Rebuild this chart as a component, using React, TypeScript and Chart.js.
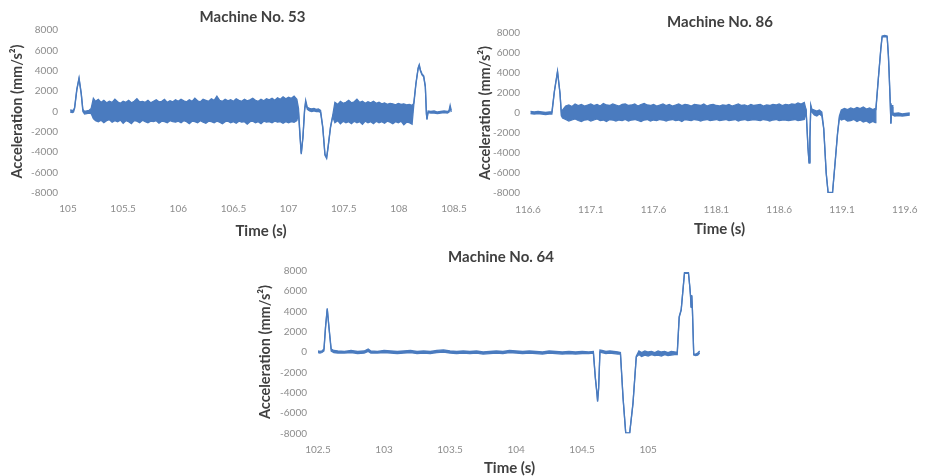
import React, { useEffect, useRef } from 'react';
import { Chart, registerables } from 'chart.js';

Chart.register(...registerables);

// ---------- shared ----------
const yTicks = [-8000, -6000, -4000, -2000, 0, 2000, 4000, 6000, 8000];
const yTitle = 'Acceleration (mm/s²)';
const xTitle = 'Time (s)';

// ---------- Machine No. 53 (upper / lower envelope of the trace) ----------
const title53 = 'Machine No. 53';
const xTicks53 = [105, 105.5, 106, 106.5, 107, 107.5, 108, 108.5];
const t53 = [
  105.02, 105.04, 105.05, 105.06, 105.08, 105.10, 105.12, 105.135, 105.15, 105.17, 105.19, 105.21,
  105.23, 105.25, 105.275, 105.30, 105.325, 105.35, 105.375, 105.40, 105.425, 105.45,
  105.475, 105.50, 105.525, 105.55, 105.575, 105.60, 105.625, 105.65, 105.675, 105.70,
  105.725, 105.75, 105.775, 105.80, 105.825, 105.85, 105.875, 105.90, 105.925, 105.95,
  105.975, 106.00, 106.025, 106.05, 106.075, 106.10, 106.125, 106.15, 106.175, 106.20,
  106.225, 106.25, 106.275, 106.30, 106.325, 106.35, 106.375, 106.40, 106.425, 106.45,
  106.475, 106.50, 106.525, 106.55, 106.575, 106.60, 106.625, 106.65, 106.675, 106.70,
  106.725, 106.75, 106.775, 106.80, 106.825, 106.85, 106.875, 106.90, 106.925, 106.95,
  106.975, 107.00, 107.025, 107.05, 107.075,
  107.09, 107.105, 107.115, 107.13, 107.145, 107.155, 107.17, 107.19, 107.21, 107.23,
  107.25, 107.27, 107.29, 107.31, 107.33, 107.345, 107.36, 107.38, 107.40,
  107.42, 107.445, 107.47, 107.495, 107.52, 107.545, 107.57, 107.595, 107.62, 107.645,
  107.67, 107.695, 107.72, 107.745, 107.77, 107.795, 107.82, 107.845, 107.87, 107.895,
  107.92, 107.945, 107.97, 107.995, 108.02, 108.045, 108.07, 108.095, 108.12,
  108.135, 108.155, 108.175, 108.185, 108.195, 108.21, 108.225, 108.24, 108.25, 108.255,
  108.265, 108.29, 108.32, 108.35, 108.38, 108.41, 108.44, 108.455, 108.465, 108.475,
];
const hi53 = [
  150, 100, 150, 400, 2200, 3300, 1800, 200, 0, 50, 100, 300,
  1300, 1000, 1200, 900, 1100, 850, 1000, 900, 1200, 950,
  800, 1000, 900, 1100, 850, 1000, 1250, 950, 1000, 900,
  1100, 850, 1000, 1150, 950, 1000, 1200, 900, 1050, 950,
  1150, 1000, 1200, 1050, 950, 1150, 1000, 1300, 1050, 950,
  1200, 1100, 1000, 1250, 1100, 1500, 1100, 1000, 1200, 1050,
  1150, 1000, 1250, 1100, 1000, 1200, 1050, 1150, 1300, 1100,
  1000, 1200, 1050, 1250, 1150, 1300, 1100, 1350, 1200, 1450,
  1250, 1400, 1300, 1500, 1200,
  300, -2500, -4100, -2500, 200, 1100, 400, 300, 250, 300,
  200, 250, 100, -1500, -4200, -4500, -3300, -1500, -400,
  900, 700, 1000, 800, 900, 1100, 850, 950, 1200, 900,
  1000, 800, 950, 850, 1000, 800, 900, 750, 850, 700,
  800, 750, 650, 800, 700, 750, 650, 700, 600,
  800, 2800, 4300, 4600, 4100, 3700, 3500, 2500, -200, -700,
  50, 0, 50, -50, 0, 50, 0, 100, 600, 100,
];
const lo53 = [
  -50, -100, -50, 300, 2100, 3200, 1700, 0, -250, -200, -150, -200,
  -700, -900, -1000, -850, -1100, -900, -800, -1050, -900, -1000,
  -850, -1150, -900, -1000, -1200, -900, -950, -1100, -850, -1000,
  -1100, -950, -1000, -900, -1150, -950, -1000, -1100, -900, -1000,
  -1050, -950, -1100, -900, -1000, -1200, -950, -1000, -1100, -900,
  -1050, -1150, -950, -1000, -1100, -950, -1050, -1200, -1000, -950,
  -1100, -1000, -1150, -950, -1050, -1000, -1250, -1000, -950, -1100,
  -1000, -1200, -950, -1050, -1000, -1100, -950, -1050, -1000, -1150,
  -1000, -1100, -1000, -1050, -900,
  -200, -2700, -4200, -2600, 0, 900, 200, 50, 0, 50,
  0, 0, -100, -1600, -4300, -4600, -3400, -1600, -500,
  -1100, -900, -1200, -950, -1100, -1000, -1200, -950, -1100, -1000,
  -1250, -950, -1100, -1000, -1200, -950, -1100, -1000, -1150, -950,
  -1050, -1200, -1000, -1100, -950, -1300, -1050, -1100, -1250,
  600, 2700, 4200, 4500, 4000, 3600, 3400, 2400, -300, -800,
  -100, -150, -150, -200, -150, -100, -150, -50, 400, -50,
];

// ---------- Machine No. 86 ----------
const title86 = 'Machine No. 86';
const xTicks86 = [116.6, 117.1, 117.6, 118.1, 118.6, 119.1, 119.6];
const t86 = [
  116.62, 116.65, 116.68, 116.71, 116.74, 116.77, 116.79, 116.81, 116.835, 116.855, 116.866, 116.875,
  116.90, 116.925, 116.95, 116.975, 117.00, 117.025, 117.05, 117.075, 117.10, 117.125,
  117.15, 117.175, 117.20, 117.225, 117.25, 117.275, 117.30, 117.325, 117.35, 117.375,
  117.40, 117.425, 117.45, 117.475, 117.50, 117.525, 117.55, 117.575, 117.60, 117.625,
  117.65, 117.675, 117.70, 117.725, 117.75, 117.775, 117.80, 117.825, 117.85, 117.875,
  117.90, 117.925, 117.95, 117.975, 118.00, 118.025, 118.05, 118.075, 118.10, 118.125,
  118.15, 118.175, 118.20, 118.225, 118.25, 118.275, 118.30, 118.325, 118.35, 118.375,
  118.40, 118.425, 118.45, 118.475, 118.50, 118.525, 118.55, 118.575, 118.60, 118.625,
  118.65, 118.675, 118.70, 118.725, 118.75, 118.775, 118.80,
  118.815, 118.83, 118.838, 118.845, 118.852, 118.86, 118.88, 118.90, 118.92, 118.94,
  118.955, 118.975, 118.99, 119.005, 119.025, 119.045, 119.065, 119.08,
  119.095, 119.12, 119.145, 119.17, 119.195, 119.22, 119.245, 119.27, 119.295, 119.32, 119.345, 119.365,
  119.37, 119.39, 119.41, 119.42, 119.44, 119.46, 119.47, 119.475, 119.485, 119.49,
  119.495, 119.50, 119.505, 119.52, 119.55, 119.58, 119.61, 119.64,
];
const hi86 = [
  150, 100, 150, 100, 50, 100, 100, 2200, 4200, 2000, -100, 300,
  700, 800, 650, 900, 750, 850, 700, 800, 900, 750,
  850, 700, 950, 800, 750, 900, 800, 700, 850, 900,
  750, 800, 900, 700, 850, 950, 800, 750, 850, 700,
  800, 900, 750, 850, 700, 800, 900, 750, 850, 800,
  700, 850, 800, 750, 900, 700, 800, 850, 750, 700,
  800, 750, 850, 700, 800, 900, 750, 800, 700, 850,
  750, 800, 850, 700, 800, 750, 850, 800, 900, 750,
  850, 800, 900, 850, 1000, 900, 1050,
  300, -3500, -4900, -2500, 800, 400, 300, 200, 300, 100,
  -1500, -6000, -7950, -7950, -7950, -5000, -2000, -300,
  300, 450, 350, 500, 400, 550, 450, 600, 400, 500, 350, 450,
  400, 3500, 6500, 7700, 7750, 7700, 5800, 4300, 1000, -1000,
  100, 800, 0, -50, 0, -100, -50, 0,
];
const lo86 = [
  -50, -100, -50, -100, -150, -100, -100, 2100, 4100, 1900, -250, -500,
  -650, -800, -700, -600, -750, -850, -700, -650, -800, -700,
  -600, -750, -700, -850, -650, -700, -800, -700, -750, -650,
  -800, -700, -650, -750, -850, -700, -650, -800, -700, -750,
  -650, -700, -800, -700, -650, -750, -700, -850, -650, -700,
  -750, -650, -700, -800, -700, -650, -750, -700, -650, -750,
  -700, -650, -750, -700, -650, -800, -700, -650, -750, -700,
  -650, -700, -750, -650, -700, -800, -700, -650, -750, -700,
  -700, -750, -700, -650, -750, -700, -650,
  100, -3600, -5000, -2600, 600, 100, -200, -300, -100, -300,
  -1600, -6100, -8000, -8000, -8000, -5100, -2100, -500,
  -700, -600, -800, -750, -650, -850, -700, -900, -800, -1000, -850, -950,
  200, 3400, 6400, 7600, 7650, 7600, 5700, 4200, 900, -1100,
  -100, 600, -200, -300, -250, -300, -250, -200,
];

// ---------- Machine No. 64 ----------
const title64 = 'Machine No. 64';
const xTicks64 = [102.5, 103, 103.5, 104, 104.5, 105];
const t64 = [
  102.50, 102.515, 102.53, 102.545, 102.557, 102.57, 102.585, 102.60, 102.62,
  102.65, 102.70, 102.75, 102.80, 102.85, 102.88, 102.90, 102.95, 103.00, 103.05,
  103.10, 103.15, 103.20, 103.25, 103.30, 103.35, 103.40, 103.45, 103.50, 103.55,
  103.60, 103.65, 103.70, 103.75, 103.80, 103.85, 103.90, 103.95, 104.00, 104.05,
  104.10, 104.15, 104.20, 104.25, 104.30, 104.35, 104.40, 104.45, 104.50, 104.55,
  104.585, 104.60, 104.612, 104.617, 104.625, 104.635, 104.65, 104.68, 104.71, 104.74,
  104.77, 104.79, 104.81, 104.83, 104.86, 104.885, 104.91, 104.93,
  104.95, 104.975, 105.00, 105.025, 105.05, 105.075, 105.10, 105.125, 105.15, 105.175, 105.20,
  105.22, 105.235, 105.25, 105.275, 105.305, 105.315, 105.32, 105.325, 105.33, 105.335,
  105.345, 105.36, 105.375, 105.39,
];
const hi64 = [
  100, 50, 100, 300, 2500, 4300, 2200, 300, 150,
  100, 50, 150, 50, 100, 300, 100, 50, 150, 100,
  50, 100, 150, 50, 100, 50, 150, 200, 100, 50,
  100, 50, 100, 0, 50, 100, 50, 150, 100, 50,
  100, 50, 0, 100, 50, 0, 50, 0, 50, 0,
  50, -2500, -4000, -4800, -3500, 200, 150, 50, 100, 50,
  0, -50, -4500, -7950, -7950, -5000, -400, 100,
  -50, 100, 0, 50, -50, 100, 0, 50, -50, 50, 0,
  -50, 3500, 4200, 7800, 7800, 6500, 5700, 4500, 5600, 4200,
  -200, -200, -100, 100,
];
const lo64 = [
  -50, -100, -50, 100, 2400, 4200, 2100, 100, -50,
  -100, -100, -50, -150, -100, 50, -100, -100, -50, -100,
  -150, -100, -50, -150, -100, -150, -50, 0, -100, -150,
  -100, -150, -100, -200, -150, -100, -150, -50, -100, -150,
  -100, -150, -200, -100, -150, -200, -150, -200, -150, -150,
  -100, -2600, -4100, -4900, -3600, 0, -50, -150, -100, -150,
  -200, -200, -4600, -8000, -8000, -5100, -500, -250,
  -450, -300, -400, -250, -350, -300, -400, -250, -350, -300, -250,
  -250, 3400, 4100, 7750, 7750, 6400, 5600, 4400, 5500, 4100,
  -300, -350, -300, -100,
];

// ---------- styling ----------
const BLUE = '#4a7bbf';
const FONT = 'Lato, "Open Sans", "DejaVu Sans", sans-serif';
const TITLE_COLOR = '#404040';
const TICK_COLOR = '#8c8c8c';

type Geo = {
  left: number; top: number; width: number; height: number;
  yAxisWidth: number; yTitlePad: number; yTickPad: number;
  xAxisHeight: number; xTickPad: number; xTitlePadBottom: number;
  titlePadTop: number; titlePadBottom: number; rightPad: number;
};

type PanelProps = {
  title: string;
  t: number[]; hi: number[]; lo: number[];
  xTicks: number[]; xMin: number; xMax: number;
  geo: Geo;
};

function Panel({ title, t, hi, lo, xTicks, xMin, xMax, geo }: PanelProps) {
  const ref = useRef<HTMLCanvasElement | null>(null);
  useEffect(() => {
    if (!ref.current) return;
    const upper = t.map((x, i) => ({ x, y: hi[i] }));
    const lower = t.map((x, i) => ({ x, y: lo[i] }));
    const chart = new Chart(ref.current, {
      type: 'line',
      data: {
        datasets: [
          { data: upper, borderColor: BLUE, borderWidth: 1.3, pointRadius: 0, fill: false, tension: 0 },
          { data: lower, borderColor: BLUE, borderWidth: 1.3, pointRadius: 0, fill: '-1', backgroundColor: BLUE, tension: 0 },
        ],
      },
      options: {
        animation: false,
        responsive: false,
        devicePixelRatio: 1,
        events: [],
        layout: { padding: 0 },
        plugins: {
          legend: { display: false },
          tooltip: { enabled: false },
          title: {
            display: true,
            text: title,
            color: TITLE_COLOR,
            font: { family: FONT, size: 15, weight: 'bold', lineHeight: 1.2 },
            padding: { top: geo.titlePadTop, bottom: geo.titlePadBottom },
          },
        },
        scales: {
          x: {
            type: 'linear',
            min: xMin,
            max: xMax,
            grid: { display: false, drawTicks: false },
            border: { display: false },
            afterBuildTicks: (scale: any) => { scale.ticks = xTicks.map((v) => ({ value: v })); },
            afterFit: (scale: any) => { scale.height = geo.xAxisHeight; },
            ticks: {
              autoSkip: false,
              maxRotation: 0,
              padding: geo.xTickPad,
              color: TICK_COLOR,
              font: { family: FONT, size: 10 },
              callback: (v: any) => String(v),
            },
            title: {
              display: true,
              text: xTitle,
              color: TITLE_COLOR,
              font: { family: FONT, size: 15, weight: 'bold', lineHeight: 1.2 },
              padding: { top: 0, bottom: geo.xTitlePadBottom },
            },
          },
          y: {
            type: 'linear',
            position: 'left',
            min: -8000,
            max: 8000,
            grid: { display: false, drawTicks: false },
            border: { display: false },
            afterBuildTicks: (scale: any) => { scale.ticks = yTicks.map((v) => ({ value: v })); },
            afterFit: (scale: any) => { scale.width = geo.yAxisWidth; },
            ticks: {
              autoSkip: false,
              padding: geo.yTickPad,
              color: TICK_COLOR,
              font: { family: FONT, size: 10 },
              callback: (v: any) => String(v),
            },
            title: {
              display: true,
              text: yTitle,
              color: TITLE_COLOR,
              font: { family: FONT, size: 14.5, weight: 'bold', lineHeight: 1.2 },
              padding: { top: geo.yTitlePad, bottom: 0 },
            },
          },
          // empty spacer on the right so the title centres like the original
          spacer: {
            type: 'linear',
            position: 'right',
            grid: { display: false, drawTicks: false },
            border: { display: false },
            ticks: { display: false },
            title: { display: false },
            afterFit: (scale: any) => { scale.width = geo.rightPad; },
          },
        },
      } as any,
    });
    return () => chart.destroy();
  }, []);
  return (
    <canvas
      ref={ref}
      width={geo.width}
      height={geo.height}
      style={{ position: 'absolute', left: geo.left, top: geo.top, width: geo.width, height: geo.height }}
    />
  );
}

const geo53: Geo = {
  left: 0, top: 0, width: 505, height: 245,
  yAxisWidth: 68, yTitlePad: 8.4, yTickPad: 10,
  xAxisHeight: 52, xTickPad: 10, xTitlePadBottom: 5,
  titlePadTop: 7.7, titlePadBottom: 4.3, rightPad: 51,
};
const geo86: Geo = {
  left: 470, top: 0, width: 500, height: 242,
  yAxisWidth: 58, yTitlePad: 6.4, yTickPad: 8,
  xAxisHeight: 49, xTickPad: 11, xTitlePadBottom: 4,
  titlePadTop: 13, titlePadBottom: 2, rightPad: 59,
};
const geo64: Geo = {
  left: 250, top: 240, width: 502, height: 245,
  yAxisWidth: 68, yTitlePad: 6.4, yTickPad: 11,
  xAxisHeight: 51.7, xTickPad: 10, xTitlePadBottom: 7.7,
  titlePadTop: 7.7, titlePadBottom: 5, rightPad: 51,
};

export default function App() {
  return (
    <div style={{ position: 'absolute', left: 0, top: 0, width: 926, height: 476, overflow: 'hidden', background: '#ffffff' }}>
      <Panel title={title53} t={t53} hi={hi53} lo={lo53} xTicks={xTicks53} xMin={105} xMax={108.5} geo={geo53} />
      <Panel title={title86} t={t86} hi={hi86} lo={lo86} xTicks={xTicks86} xMin={116.6} xMax={119.65} geo={geo86} />
      <Panel title={title64} t={t64} hi={hi64} lo={lo64} xTicks={xTicks64} xMin={102.5} xMax={105.4} geo={geo64} />
    </div>
  );
}
